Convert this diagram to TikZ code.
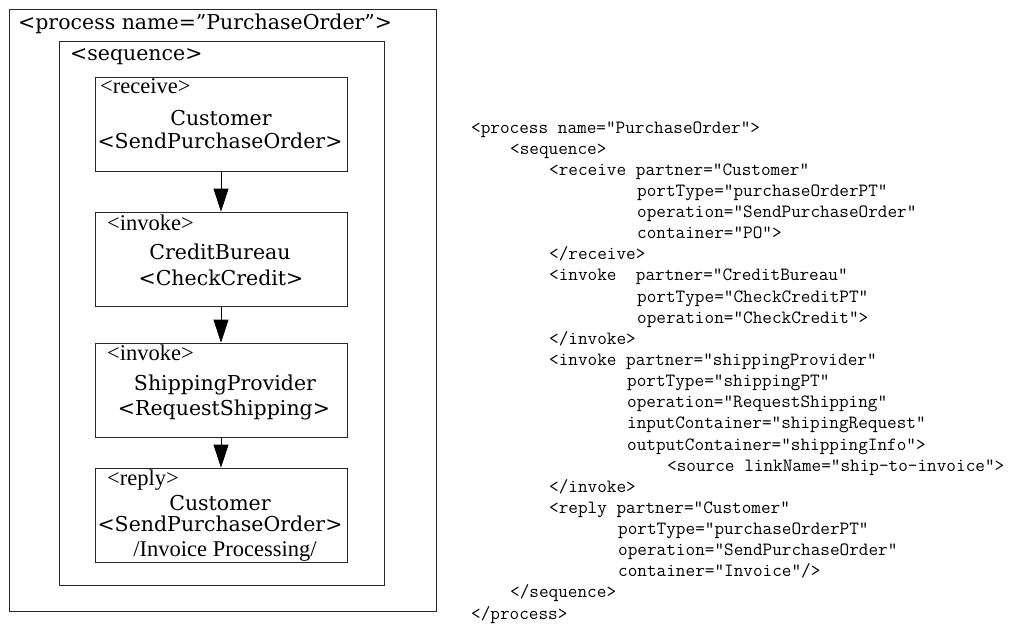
\documentclass[tikz,border=0pt]{standalone}
\usepackage{fontspec}
\setmainfont{DejaVu Serif}
\newfontfamily\tagfont{Liberation Serif}
\usetikzlibrary{arrows.meta}

\begin{document}
\begin{tikzpicture}[x=1pt,y=-1pt,
  frame/.style={draw=black!85,line width=0.8pt,inner sep=0pt},
  actbox/.style={frame,minimum width=252pt,minimum height=94pt},
  lbl/.style={font=\fontsize{20.5}{24}\selectfont,anchor=base,inner sep=0pt},
  tag/.style={font=\tagfont\fontsize{22.5}{26}\selectfont,anchor=base west,inner sep=0pt},
  code/.style={font=\ttfamily\fontsize{18.7}{21}\selectfont,anchor=base west,inner sep=0pt},
  flow/.style={-{Triangle[width=15pt,length=23pt]},line width=0.8pt}]
\useasboundingbox (0,0) rectangle (1015,626);
\node[frame,minimum width=427pt,minimum height=602pt] (proc) at (222.5,310) {};
\node[lbl,anchor=base west] (proct) at (18,30) {<process name=”PurchaseOrder”>};
\node[frame,minimum width=325pt,minimum height=544pt] (seq) at (222,313) {};
\node[lbl,anchor=base west] (seqt) at (70,61) {<sequence>};
\node[actbox] (recv) at (221,124) {};
\node[tag] (recvt) at (100,94) {<receive>};
\node[lbl] (recv1) at (221,125) {Customer};
\node[lbl] (recv2) at (220,148) {<SendPurchaseOrder>};
\node[actbox] (inva) at (221,259) {};
\node[tag] (invat) at (107,230) {<invoke>};
\node[lbl] (inva1) at (220,259) {CreditBureau};
\node[lbl] (inva2) at (221,285) {<CheckCredit>};
\node[actbox] (invb) at (221,390) {};
\node[tag] (invbt) at (107,360) {<invoke>};
\node[lbl] (invb1) at (225,390) {ShippingProvider};
\node[lbl] (invb2) at (224,415) {<RequestShipping>};
\node[actbox] (repl) at (221,515) {};
\node[tag] (replt) at (107,485) {<reply>};
\node[lbl] (repl1) at (220,510) {Customer};
\node[lbl] (repl2) at (220,531) {<SendPurchaseOrder>};
\node[tag,anchor=base] (repl3) at (225,556) {/Invoice Processing/};
\draw[flow] (recv.south) -- (inva.north);
\draw[flow] (inva.south) -- (invb.north);
\draw[flow] (invb.south) -- (repl.north);
\node[code] (l1) at (471,133) {<process name="PurchaseOrder">};
\node[code] (l2) at (510,154.1) {<sequence>};
\node[code] (l3) at (549,175.3) {<receive partner="Customer"};
\node[code] (l4) at (637,196.4) {portType="purchaseOrderPT"};
\node[code] (l5) at (637,217.5) {operation="SendPurchaseOrder"};
\node[code] (l6) at (637,238.7) {container="PO">};
\node[code] (l7) at (549,259.8) {</receive>};
\node[code] (l8) at (549,280.9) {<invoke\ \ partner="CreditBureau"};
\node[code] (l9) at (637,302) {portType="CheckCreditPT"};
\node[code] (l10) at (637,323.2) {operation="CheckCredit">};
\node[code] (l11) at (549,344.3) {</invoke>};
\node[code] (l12) at (549,365.4) {<invoke partner="shippingProvider"};
\node[code] (l13) at (627,386.6) {portType="shippingPT"};
\node[code] (l14) at (627,407.7) {operation="RequestShipping"};
\node[code] (l15) at (627,428.8) {inputContainer="shipingRequest"};
\node[code] (l16) at (627,450) {outputContainer="shippingInfo">};
\node[code] (l17) at (667,471.1) {<source linkName="ship-to-invoice">};
\node[code] (l18) at (549,492.2) {</invoke>};
\node[code] (l19) at (549,513.3) {<reply partner="Customer"};
\node[code] (l20) at (618,534.5) {portType="purchaseOrderPT"};
\node[code] (l21) at (618,555.6) {operation="SendPurchaseOrder"};
\node[code] (l22) at (618,576.7) {container="Invoice"/>};
\node[code] (l23) at (510,597.9) {</sequence>};
\node[code] (l24) at (471,619) {</process>};
\end{tikzpicture}
\end{document}
